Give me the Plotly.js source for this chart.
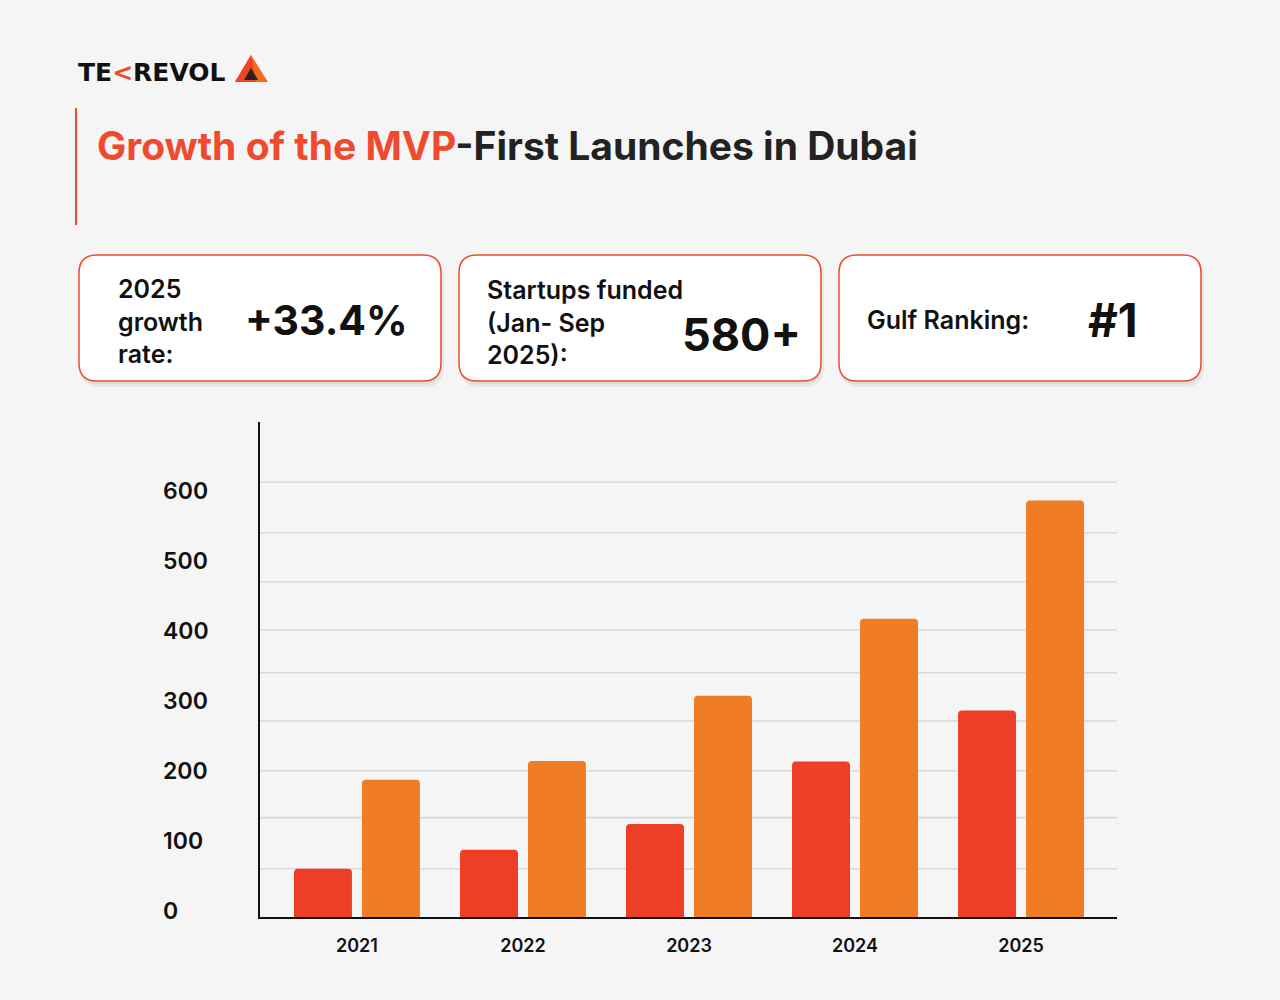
<!DOCTYPE html>
<html>
<head>
<meta charset="utf-8">
<script src="https://cdn.plot.ly/plotly-3.0.1.min.js"></script>
<style>
  html, body { margin: 0; padding: 0; background: #f5f5f5; }
  #chart { width: 1280px; height: 1000px; }
</style>
</head>
<body>
<div id="chart"></div>
<script>
// ---- Data ----
const categories = ['2021', '2022', '2023', '2024', '2025'];
const seriesRed = [69, 96, 133, 222, 295];
const seriesOrange = [196, 223, 316, 426, 595];
const yTickValues = [0, 100, 200, 300, 400, 500, 600];
const yTickLabels = ['0', '100', '200', '300', '400', '500', '600'];
const gridValues = [69, 142, 209, 280, 349, 410, 479, 549, 621];

const titleRed = 'Growth of the MVP';
const titleDark = '-First Launches in Dubai';
const statLabels = ['2025<br>growth<br>rate:', 'Startups funded<br>(Jan- Sep<br>2025):', 'Gulf Ranking:'];
const statValues = ['+33.4%', '580+', '#1'];

// ---- Layout geometry (pixels) ----
const W = 1280, H = 1000;
const M = { l: 260, r: 163, t: 422, b: 83 };
const PW = W - M.l - M.r, PH = H - M.t - M.b;
const px = x => (x - M.l) / PW;
const py = y => (H - M.b - y) / PH;

const RED = '#EF3E27';
const ORANGE = '#F07D23';
const ACCENT = '#F04A2E';
const FONT = 'Inter, "Noto Sans", sans-serif';

function roundRectPath(x0, y0, x1, y1, r) {
  const P = (x, y) => px(x).toFixed(5) + ',' + py(y).toFixed(5);
  return 'M' + P(x0 + r, y0) + ' L' + P(x1 - r, y0) + ' Q' + P(x1, y0) + ' ' + P(x1, y0 + r) +
    ' L' + P(x1, y1 - r) + ' Q' + P(x1, y1) + ' ' + P(x1 - r, y1) +
    ' L' + P(x0 + r, y1) + ' Q' + P(x0, y1) + ' ' + P(x0, y1 - r) +
    ' L' + P(x0, y0 + r) + ' Q' + P(x0, y0) + ' ' + P(x0 + r, y0) + ' Z';
}
function polyPath(pts) {
  return pts.map((p, i) => (i ? 'L' : 'M') + px(p[0]).toFixed(5) + ',' + py(p[1]).toFixed(5)).join(' ') + ' Z';
}

const shapes = [];
const annotations = [];

// gridlines
gridValues.forEach(v => shapes.push({
  type: 'line', xref: 'paper', yref: 'y', x0: 0, x1: 1, y0: v, y1: v,
  line: { color: '#d9d9d9', width: 1.6 }, layer: 'below'
}));

// accent vertical bar next to title
shapes.push({ type: 'line', xref: 'paper', yref: 'paper', x0: px(76), x1: px(76), y0: py(108), y1: py(225),
  line: { color: ACCENT, width: 2 } });

// cards
const cards = [[79, 255, 441, 381], [459, 255, 821, 381], [839, 255, 1201, 381]];
cards.forEach(c => {
  shapes.push({ type: 'path', xref: 'paper', yref: 'paper', path: roundRectPath(c[0] + 1, c[1] + 4, c[2] + 3, c[3] + 6, 20),
    fillcolor: 'rgba(0,0,0,0.05)', line: { width: 0 } });
  shapes.push({ type: 'path', xref: 'paper', yref: 'paper', path: roundRectPath(c[0], c[1] + 2, c[2] + 1, c[3] + 3, 19),
    fillcolor: 'rgba(0,0,0,0.05)', line: { width: 0 } });
  shapes.push({ type: 'path', xref: 'paper', yref: 'paper', path: roundRectPath(c[0], c[1], c[2], c[3], 18),
    fillcolor: '#ffffff', line: { color: ACCENT, width: 1.5 } });
});

// logo triangle
shapes.push({ type: 'path', xref: 'paper', yref: 'paper', path: polyPath([[251, 55], [268, 82], [235, 82]]),
  fillcolor: '#F26A24', line: { width: 0 } });
shapes.push({ type: 'path', xref: 'paper', yref: 'paper', path: polyPath([[251, 55], [256, 82], [235, 82]]),
  fillcolor: '#EE4526', line: { width: 0 } });
shapes.push({ type: 'path', xref: 'paper', yref: 'paper', path: polyPath([[251, 68], [258, 80], [244, 80]]),
  fillcolor: '#2b2220', line: { width: 0 } });

// logo text
annotations.push({ xref: 'paper', yref: 'paper', x: px(76), y: py(72), xanchor: 'left', yanchor: 'middle',
  text: 'TE<span style="color:' + ACCENT + '">&lt;</span>REVOL', showarrow: false,
  font: { family: '"DejaVu Sans", sans-serif', size: 25, color: '#111', weight: 700 } });

// title
annotations.push({ xref: 'paper', yref: 'paper', x: px(95), y: py(145), xanchor: 'left', yanchor: 'middle',
  text: '<span style="color:' + ACCENT + '">' + titleRed + '</span>' + titleDark, showarrow: false,
  font: { family: FONT, size: 39, color: '#222', weight: 700 } });

// card texts
const labelPos = [[116, 321], [485, 322], [865, 320]];
const valuePos = [[243, 320], [680, 334], [1086, 320]];
const valueSize = [41, 45, 46];
statLabels.forEach((t, i) => annotations.push({ xref: 'paper', yref: 'paper', x: px(labelPos[i][0]), y: py(labelPos[i][1]),
  xanchor: 'left', yanchor: 'middle', align: 'left', text: t, showarrow: false,
  font: { family: FONT, size: 25, color: '#111', weight: 600 } }));
statValues.forEach((t, i) => annotations.push({ xref: 'paper', yref: 'paper', x: px(valuePos[i][0]), y: py(valuePos[i][1]),
  xanchor: 'left', yanchor: 'middle', text: t, showarrow: false,
  font: { family: FONT, size: valueSize[i], color: '#111', weight: 700 } }));

// y tick labels (left aligned)
yTickValues.forEach((v, i) => annotations.push({ xref: 'paper', yref: 'y', x: px(161), y: v, yshift: 6,
  xanchor: 'left', yanchor: 'middle', text: yTickLabels[i], showarrow: false,
  font: { family: FONT, size: 23, color: '#111', weight: 600 } }));

const traces = [
  { type: 'bar', name: 'Series 1', x: categories, y: seriesRed, marker: { color: RED, cornerradius: 4 },
    hoverinfo: 'x+y' },
  { type: 'bar', name: 'Series 2', x: categories, y: seriesOrange, marker: { color: ORANGE, cornerradius: 4 },
    hoverinfo: 'x+y' }
];

const layout = {
  width: W, height: H,
  margin: M,
  paper_bgcolor: '#f5f5f5', plot_bgcolor: 'rgba(0,0,0,0)',
  showlegend: false,
  barmode: 'group', bargap: 0.181, bargroupgap: 0.147,
  xaxis: {
    type: 'category', range: [-0.584, 4.578], showgrid: false, zeroline: false,
    showline: true, linecolor: '#111', linewidth: 2, ticks: '', ticklabelstandoff: 11,
    tickfont: { family: FONT, size: 18, color: '#111', weight: 600 }, fixedrange: true
  },
  yaxis: {
    range: [0, PH / 0.7], showgrid: false, zeroline: false, showticklabels: false,
    showline: true, linecolor: '#111', linewidth: 2, ticks: '', fixedrange: true
  },
  shapes: shapes,
  annotations: annotations
};

Plotly.newPlot('chart', traces, layout, { displayModeBar: false, staticPlot: true });
</script>
</body>
</html>
